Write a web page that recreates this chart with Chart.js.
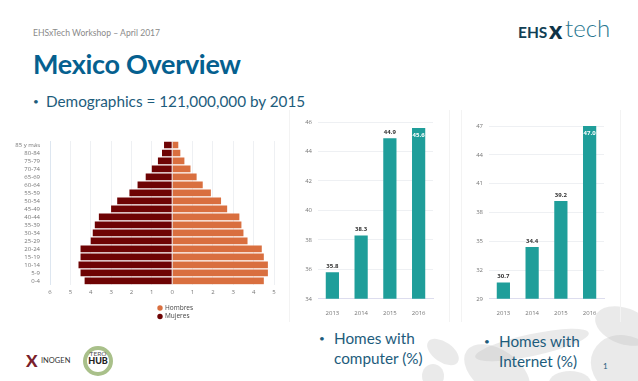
<!DOCTYPE html>
<html>
<head>
<meta charset="utf-8">
<title>Mexico Overview</title>
<script src="https://cdn.jsdelivr.net/npm/chart.js@4"></script>
<style>
html,body{margin:0;padding:0;background:#fff;}
#slide{position:relative;width:638px;height:381px;overflow:hidden;font-family:Lato,"Open Sans",sans-serif;}
#slide div,#slide canvas{position:absolute;}
canvas{filter:blur(0.6px);}
.txt{white-space:nowrap;color:#1d5c7c;}
.leaf{background:rgba(190,190,190,0.33);border-radius:50%;}
.vline{width:1px;top:110px;height:212px;background:#f3f3f3;}
</style>
</head>
<body>
<div id="slide">
	<div class="leaf" style="left:425px;top:342px;width:36px;height:20px;transform:rotate(35deg);"></div>
	<div class="leaf" style="left:422px;top:364px;width:22px;height:24px;"></div>
	<div class="leaf" style="left:460px;top:350px;width:74px;height:44px;transform:rotate(35deg);"></div>
	<div class="leaf" style="left:474px;top:334px;width:116px;height:22px;transform:rotate(-12deg);"></div>
	<div class="leaf" style="left:549px;top:371px;width:42px;height:24px;"></div>
	<div class="leaf" style="left:590px;top:336px;width:70px;height:60px;transform:rotate(25deg);"></div>
	<div class="leaf" style="left:594px;top:308px;width:60px;height:36px;transform:rotate(20deg);"></div>
	<div class="vline" style="left:289px;"></div>
	<div class="vline" style="left:449px;"></div>
	<div class="vline" style="left:461px;"></div>
	<div class="vline" style="left:620px;"></div>
	<div class="txt" style="left:33px;top:28px;font-size:8.6px;color:#8a8a8a;">EHSxTech Workshop – April 2017</div>
	<div class="txt" style="left:33px;top:47px;font-size:27px;font-weight:bold;color:#05608f;letter-spacing:-0.3px;">Mexico Overview</div>
	<div class="txt" style="left:33px;top:91px;font-size:10px;line-height:20px;">•</div>
	<div class="txt" style="left:46px;top:91px;font-size:15.3px;line-height:20px;">Demographics = 121,000,000 by 2015</div>
	<div class="txt" style="left:518px;top:24px;font-size:15.5px;line-height:16px;color:#123f55;font-weight:bold;">EHS</div>
	<div class="txt" style="left:549px;top:16px;font-size:25px;line-height:26px;color:#0f3346;font-weight:900;">x</div>
	<div class="txt" style="left:565px;top:14px;font-size:24px;line-height:28px;color:#27768f;font-weight:300;">tech</div>
	<canvas id="pyramid" style="left:0;top:130px;" width="289" height="195"></canvas>
	<canvas id="computer" style="left:290px;top:110px;" width="159" height="215"></canvas>
	<canvas id="internet" style="left:460px;top:110px;" width="159" height="215"></canvas>
	<div class="txt" style="left:319px;top:328px;font-size:10px;line-height:20px;">•</div>
	<div class="txt" style="left:334px;top:328px;font-size:15.3px;line-height:20px;">Homes with<br>computer (%)</div>
	<div class="txt" style="left:484px;top:331px;font-size:10px;line-height:20px;">•</div>
	<div class="txt" style="left:499px;top:331px;font-size:15.3px;line-height:20px;">Homes with<br>Internet (%)</div>
	<div class="txt" style="left:603px;top:361px;font-size:8px;">1</div>
	<div class="txt" style="left:26px;top:352px;font-size:17px;line-height:18px;font-weight:900;color:#7a1f2b;">X</div>
	<div class="txt" style="left:41px;top:356px;font-size:7.5px;line-height:10px;color:#333;">INOGEN</div>
	<div style="left:83px;top:346px;width:22px;height:22px;border:4px solid #a9c08a;border-radius:50%;"></div>
	<div class="txt" style="left:83px;top:350px;width:30px;font-size:6.5px;line-height:7px;text-align:center;color:#555;">TERO</div>
	<div class="txt" style="left:83px;top:356px;width:30px;font-size:9px;line-height:10px;text-align:center;color:#222;font-weight:900;">HUB</div>
</div>
<script>
// Pyramid data
const ageLabels = ["85 y más","80-84","75-79","70-74","65-69","60-64","55-59","50-54","45-49","40-44","35-39","30-34","25-29","20-24","15-19","10-14","5-9","0-4"];
const hombres = [0.3,0.4,0.6,0.9,1.2,1.5,1.9,2.4,2.7,3.3,3.4,3.5,3.7,4.4,4.5,4.7,4.7,4.5];
const mujeres = [-0.4,-0.5,-0.7,-1.0,-1.3,-1.7,-2.1,-2.7,-3.0,-3.6,-3.8,-3.9,-4.0,-4.5,-4.5,-4.6,-4.5,-4.3];

// Bar data
const years = ["2013","2014","2015","2016"];
const computerPct = [35.8,38.3,44.9,45.6];
const internetPct = [30.7,34.4,39.2,47.0];

const TEAL = "#1f9e9a";
const TICK = "#777";
const GRID = "#eef0f3";

// Value labels above the bars, last one sits inside in white
const barLabels = {
	id: "barLabels",
	afterDatasetsDraw(chart){
		const ctx = chart.ctx;
		const values = chart.data.datasets[0].data;
		chart.getDatasetMeta(0).data.forEach((bar,i) => {
			const last = i === values.length-1;
			ctx.save();
			ctx.font = "bold 6px 'Open Sans'";
			ctx.textAlign = "center";
			ctx.fillStyle = last ? "#fff" : "#333";
			ctx.fillText(values[i].toFixed(1), bar.x, last ? bar.y+9 : bar.y-4);
			ctx.restore();
		});
	}
};

// Chart.js legends don't stack in rows here, so draw the two entries by hand
const stackedLegend = {
	id: "stackedLegend",
	afterDraw(chart){
		const ctx = chart.ctx;
		chart.data.datasets.forEach((ds,i) => {
			const y = 178 + i*8.5;
			ctx.save();
			ctx.fillStyle = ds.backgroundColor;
			ctx.beginPath();
			ctx.arc(160,y,2.7,0,Math.PI*2);
			ctx.fill();
			ctx.fillStyle = "#444";
			ctx.font = "6.5px 'Open Sans'";
			ctx.textBaseline = "middle";
			ctx.fillText(ds.label,165,y);
			ctx.restore();
		});
	}
};

function createBar(id, data, min, max, step, pad){
	new Chart(document.getElementById(id),{
		type:"bar",
		data:{labels:years,datasets:[{data:data,backgroundColor:TEAL,barPercentage:0.46,categoryPercentage:1}]},
		plugins:[barLabels],
		options:{
			responsive:false,
			animation:false,
			layout:{padding:pad},
			plugins:{legend:{display:false},tooltip:{enabled:false}},
			scales:{
				x:{grid:{display:false},border:{color:"#dde"},ticks:{color:TICK,font:{size:6,family:"Open Sans"},padding:3,maxRotation:0}},
				y:{min:min,max:max,afterFit(s){s.width=28;},border:{display:false},grid:{color:GRID,drawTicks:false},
					ticks:{stepSize:step,color:TICK,font:{size:6,family:"Open Sans"},padding:6}}
			}
		}
	});
}

window.addEventListener("load",() => {
	new Chart(document.getElementById("pyramid"),{
		type:"bar",
		data:{labels:ageLabels,datasets:[
			{label:"Hombres",data:hombres,backgroundColor:"#d96f3f",barPercentage:0.84,categoryPercentage:1},
			{label:"Mujeres",data:mujeres,backgroundColor:"#6e0304",barPercentage:0.84,categoryPercentage:1}
		]},
		plugins:[stackedLegend],
		options:{
			indexAxis:"y",
			responsive:false,
			animation:false,
			layout:{padding:{right:15,top:11,bottom:25}},
			plugins:{tooltip:{enabled:false},legend:{display:false}},
			scales:{
				x:{min:-6,max:5,stacked:true,border:{display:false},grid:{color:GRID,drawTicks:false},
					ticks:{stepSize:1,color:TICK,font:{size:6,family:"Open Sans"},padding:4,callback:v => Math.abs(v)}},
				y:{stacked:true,afterFit(s){s.width=50;},grid:{display:false},border:{color:"#dde6f0"},
					ticks:{color:TICK,font:{size:6,family:"Open Sans"},padding:2,autoSkip:false}}
			}
		}
	});
	createBar("computer",computerPct,34,46,2,{top:12,right:16,bottom:5});
	createBar("internet",internetPct,29,47,3,{top:16,right:15,bottom:5,left:1});
});
</script>
</body>
</html>
